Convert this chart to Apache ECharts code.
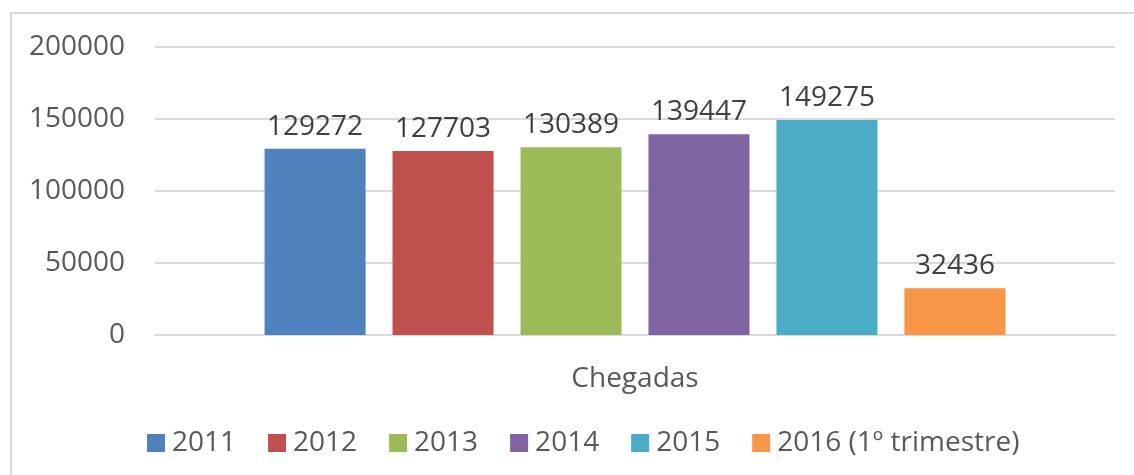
<!DOCTYPE html>
<html><head><meta charset="utf-8">
<script src="https://cdn.jsdelivr.net/npm/echarts@6/dist/echarts.min.js"></script>
<style>html,body{margin:0;padding:0;background:#fff}#c{width:1134px;height:475px}</style>
</head><body><div id="c"></div>
<script>
const categories = ['Chegadas'];
const seriesNames = ['2011', '2012', '2013', '2014', '2015', '2016 (1º trimestre)'];
const seriesValues = [129272, 127703, 130389, 139447, 149275, 32436];
const colors = ['#4F81BD', '#C0504D', '#9BBB59', '#8064A2', '#4BACC6', '#F79646'];
const yTicks = [0, 50000, 100000, 150000, 200000];

const font = 'Open Sans';
const chart = echarts.init(document.getElementById('c'), null, {renderer: 'canvas'});
chart.setOption({
  animation: false,
  color: colors,
  graphic: [{type: 'rect', shape: {x: 11, y: 13, width: 1200, height: 600},
    style: {fill: 'none', stroke: '#d9d9d9', lineWidth: 2}, silent: true}],
  grid: {left: 155, right: 19, top: 47, bottom: 140, containLabel: false},
  legend: {
    left: 142, top: 424, itemWidth: 18, itemHeight: 18, itemGap: 32,
    icon: 'rect', data: seriesNames,
    textStyle: {fontFamily: font, fontSize: 28, color: '#595959', padding: [0, 0, 0, 2]}
  },
  xAxis: {
    type: 'category', data: categories,
    axisLine: {show: true, lineStyle: {color: '#d9d9d9', width: 2}},
    axisTick: {show: false},
    axisLabel: {fontFamily: font, fontSize: 28, color: '#595959', margin: 30}
  },
  yAxis: {
    type: 'value', min: yTicks[0], max: yTicks[yTicks.length - 1], interval: 50000,
    axisLine: {show: false}, axisTick: {show: false},
    splitLine: {lineStyle: {color: '#d9d9d9', width: 2}},
    axisLabel: {fontFamily: font, fontSize: 28, color: '#595959', margin: 30,
      formatter: v => String(v)}
  },
  series: seriesNames.map((n, i) => ({
    name: n, type: 'bar', data: [seriesValues[i]],
    barWidth: 101, barGap: '26.7%',
    itemStyle: {color: colors[i]},
    label: {show: true, position: 'top', distance: 8, fontFamily: font, fontSize: 28, color: '#404040'}
  }))
});
</script></body></html>
